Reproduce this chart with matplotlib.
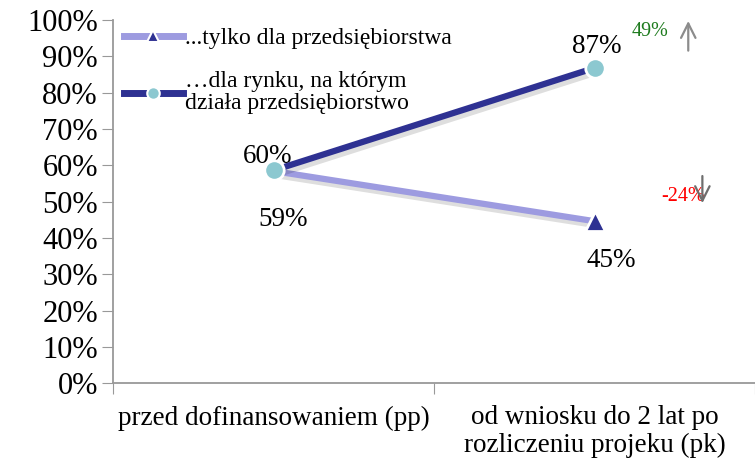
import matplotlib
matplotlib.use("Agg")
import matplotlib.pyplot as plt
import matplotlib.patheffects as pe
from matplotlib.lines import Line2D

categories = ["przed dofinansowaniem (pp)", "od wniosku do 2 lat po\nrozliczeniu projeku (pk)"]
series_names = ["...tylko dla przedsiębiorstwa", "…dla rynku, na którym\ndziała przedsiębiorstwo"]
only_company = [58.4, 44.6]
market = [58.6, 86.8]
only_company_labels = ["59%", "45%"]
market_labels = ["60%", "87%"]
change_labels = ["49%", "-24%"]
yticks = list(range(0, 101, 10))

plt.rcParams['font.family'] = ['Liberation Serif', 'DejaVu Serif']

fig = plt.figure(figsize=(7.55, 4.65), dpi=100)
ax = fig.add_axes([0.15, 0.176, 0.85, 0.781])

light = "#9D9BE0"
dark = "#2E3192"
circ = "#8CC8D0"

x = [0.5, 1.5]
shadow = [pe.SimpleLineShadow(offset=(2, -3), shadow_color="black", alpha=0.13), pe.Normal()]

ax.plot(x, only_company, color=light, lw=4.5, solid_capstyle="butt", zorder=3, path_effects=shadow)
ax.plot(x, market, color=dark, lw=4.5, solid_capstyle="butt", zorder=4, path_effects=shadow)
ax.plot(x[1:], only_company[1:], ls="none", marker="^", ms=14, mfc=dark, mec="white", mew=2, zorder=5)
ax.plot(x, market, ls="none", marker="o", ms=14, mfc=circ, mec="white", mew=2, zorder=6)

# data labels
fs_lab = 19.5
ax.text(x[0] - 0.02, market[0] + 3.7, market_labels[0], ha="center", va="center", fontsize=fs_lab)
ax.text(x[0] + 0.03, only_company[0] - 13.4, only_company_labels[0], ha="center", va="center", fontsize=fs_lab)
ax.text(x[1] + 0.006, market[1] + 5.8, market_labels[1], ha="center", va="center", fontsize=fs_lab)
ax.text(x[1] + 0.052, only_company[1] - 10.7, only_company_labels[1], ha="center", va="center", fontsize=fs_lab)

# change annotations
ax.text(1.674, 96.7, change_labels[0], color="#1E7B1E", ha="center", va="center", fontsize=14.5)
ax.annotate("", xy=(1.792, 100.5), xytext=(1.792, 90.8),
            arrowprops=dict(arrowstyle="->", color="#8C8C8C", lw=1.6, mutation_scale=26),
            annotation_clip=False)
ax.text(1.776, 51.3, change_labels[1], color="red", ha="center", va="center", fontsize=14.5)
ax.annotate("", xy=(1.836, 48.8), xytext=(1.836, 57.8),
            arrowprops=dict(arrowstyle="->", color="#6E6E6E", lw=1.6, mutation_scale=26))

ax.set_xlim(0, 2)
ax.set_ylim(0, 100)
ax.set_yticks(yticks)
ax.set_yticklabels([f"{v}%" for v in yticks], fontsize=22)
ax.set_xticks([0, 1, 2])
ax.set_xticklabels(["", "", ""])
ax.set_xticks(x, minor=True)
ax.set_xticklabels(categories, minor=True, fontsize=19.5, linespacing=1.15)
ax.tick_params(axis="x", which="minor", length=0, pad=16)
ax.tick_params(axis="x", which="major", length=8, color="#999999", direction="out")
ax.tick_params(axis="y", length=8, color="#999999", direction="out", pad=3)
for s in ["top", "right"]:
    ax.spines[s].set_visible(False)
for s in ["left", "bottom"]:
    ax.spines[s].set_color("#999999")
    ax.spines[s].set_linewidth(1.3)

handles = [
    Line2D([0], [0], color=light, lw=5, marker="^", ms=8, mfc=dark, mec="white", mew=1.5),
    Line2D([0], [0], color=dark, lw=5, marker="o", ms=9, mfc=circ, mec="white", mew=1.5),
]
leg = ax.legend(handles, series_names, loc="upper left", bbox_to_anchor=(0.011, 0.989), frameon=False,
                fontsize=17, handlelength=2.5, handletextpad=0.1, labelspacing=0.95,
                borderaxespad=0.0, borderpad=0.15)
for t in leg.get_texts():
    t.set_linespacing(1.05)

fig.savefig("out.png", dpi=100)
